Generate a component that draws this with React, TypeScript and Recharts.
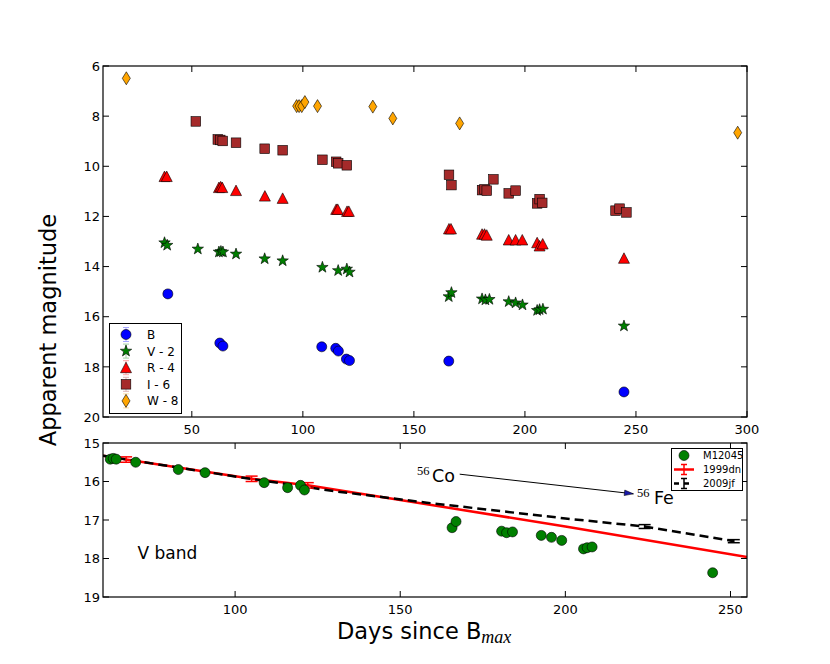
import React from 'react'
import {
  ComposedChart,
  Scatter,
  Line,
  XAxis,
  YAxis,
  ErrorBar,
  ReferenceLine,
  ReferenceDot,
} from 'recharts'

const FONT = '"DejaVu Sans", sans-serif'
const SERIF = '"Liberation Serif", "DejaVu Serif", serif'

// ---- top panel: days since B max vs. magnitude (bands shifted by offsets) ----
const B_DAYS = [39.2, 62.6, 64.0, 108.5, 114.8, 116.0, 119.6, 121.0, 165.7, 244.6]
const B_MAG = [15.09, 17.05, 17.17, 17.2, 17.26, 17.37, 17.69, 17.75, 17.77, 19.0]

const V_DAYS = [37.7, 38.9, 52.7, 62.2, 63.1, 64.0, 69.9, 82.8, 90.9, 108.8, 115.9, 119.8, 121.0,
  165.7, 166.9, 180.7, 182.2, 184.0, 192.7, 195.8, 198.9, 205.5, 206.6, 208.1, 244.6]
const V2_MAG = [13.05, 13.15, 13.3, 13.42, 13.4, 13.42, 13.5, 13.69, 13.77, 14.03, 14.16, 14.1, 14.22,
  15.2, 15.04, 15.29, 15.33, 15.31, 15.4, 15.45, 15.53, 15.75, 15.72, 15.7, 16.37]

const R_DAYS = [37.7, 38.7, 62.2, 63.0, 63.7, 69.9, 82.9, 90.9, 115.0, 115.7, 119.9, 120.7,
  165.8, 166.7, 180.7, 181.8, 182.8, 192.7, 195.8, 198.8, 205.5, 206.6, 208.0, 244.6]
const R4_MAG = [10.41, 10.41, 10.85, 10.82, 10.85, 10.97, 11.19, 11.28, 11.72, 11.72, 11.8, 11.8,
  12.5, 12.5, 12.71, 12.71, 12.75, 12.94, 12.94, 12.94, 13.05, 13.18, 13.1, 13.67]

const I_DAYS = [51.8, 61.7, 62.8, 63.9, 69.9, 82.8, 90.9, 108.8, 115.0, 115.9, 119.8, 165.8, 166.9,
  180.7, 181.8, 182.8, 185.8, 192.7, 195.8, 205.5, 206.6, 207.8, 240.8, 242.6, 245.7]
const I6_MAG = [8.21, 8.93, 8.95, 8.99, 9.06, 9.3, 9.36, 9.74, 9.82, 9.88, 9.96, 10.34, 10.75,
  10.95, 10.92, 10.97, 10.52, 11.08, 10.97, 11.48, 11.31, 11.46, 11.77, 11.69, 11.84]

const W_DAYS = [20.5, 97.2, 98.3, 99.5, 100.9, 106.6, 131.5, 140.5, 170.6, 295.8]
const W8_MAG = [6.49, 7.6, 7.6, 7.6, 7.44, 7.6, 7.62, 8.09, 8.29, 8.66]

const TOP_X_TICKS = [50, 100, 150, 200, 250, 300]
const TOP_Y_TICKS = [6, 8, 10, 12, 14, 16, 18, 20]

// ---- bottom panel: V band against the 1999dn and 2009jf templates ----
const DN_DAYS = [60, 67, 105, 122, 150, 200, 255]
const DN_MAG = [15.33, 15.43, 15.93, 16.1, 16.48, 17.17, 17.96]
const DN_ERR_DAYS = [67, 105, 122]
const DN_ERR_MAG = [15.43, 15.93, 16.1]
const DN_ERR = [0.07, 0.07, 0.07]

const JF_DAYS = [60, 100, 130, 158, 200, 224, 251]
const JF_MAG = [15.33, 15.87, 16.25, 16.55, 16.96, 17.17, 17.55]
const JF_ERR_DAYS = [224, 251]
const JF_ERR_MAG = [17.17, 17.55]
const JF_ERR = [0.05, 0.04]

const BOT_X_TICKS = [100, 150, 200, 250]
const BOT_Y_TICKS = [15, 16, 17, 18, 19]

const ARROW = [{ x: 168, y: 15.81 }, { x: 220.6, y: 16.32 }]

const pts = (xs: number[], ys: number[]) => xs.map((x, i) => ({ x, y: ys[i] }))

const bData = pts(B_DAYS, B_MAG)
const vData = pts(V_DAYS, V2_MAG)
const rData = pts(R_DAYS, R4_MAG)
const iData = pts(I_DAYS, I6_MAG)
const wData = pts(W_DAYS, W8_MAG)

// the bottom V band is the same photometry without the -2 shift
const mData = V_DAYS.map((x, i) => ({ x, y: V2_MAG[i] + 2 })).filter(p => p.x >= 60)
const dnData = pts(DN_DAYS, DN_MAG)
const jfData = pts(JF_DAYS, JF_MAG)
const dnErrData = DN_ERR_DAYS.map((x, i) => ({ x, y: DN_ERR_MAG[i], err: DN_ERR[i] }))
const jfErrData = JF_ERR_DAYS.map((x, i) => ({ x, y: JF_ERR_MAG[i], err: JF_ERR[i] }))

const COLORS = { B: '#0000ff', V: '#007f00', R: '#ff0000', I: '#a52a2a', W: '#ffa500' }

// plot boxes inside each chart's own svg
const TOP_BOX = { left: 103, right: 747, top: 66, bottom: 417 }
const BOT_BOX = { left: 103, right: 747, top: 23, bottom: 177 }
const BOT_OFFSET = 420

const edge = { stroke: '#000', strokeWidth: 0.6 }

const circle = (fill: string) => (p: any) => (
  <circle cx={p.cx} cy={p.cy} r={5} fill={fill} {...edge} />
)
const star = (fill: string) => (p: any) => {
  const v: string[] = []
  for (let k = 0; k < 10; k++) {
    const a = -Math.PI / 2 + (k * Math.PI) / 5
    const rr = k % 2 === 0 ? 6 : 2.4
    v.push(`${p.cx + rr * Math.cos(a)},${p.cy + rr * Math.sin(a)}`)
  }
  return <polygon points={v.join(' ')} fill={fill} {...edge} />
}
const triangle = (fill: string) => (p: any) => (
  <polygon
    points={`${p.cx},${p.cy - 5.5} ${p.cx - 5.5},${p.cy + 5} ${p.cx + 5.5},${p.cy + 5}`}
    fill={fill}
    {...edge}
  />
)
const square = (fill: string) => (p: any) => (
  <rect x={p.cx - 4.8} y={p.cy - 4.8} width={9.6} height={9.6} fill={fill} {...edge} />
)
const diamond = (fill: string) => (p: any) => (
  <polygon
    points={`${p.cx},${p.cy - 6.5} ${p.cx + 4},${p.cy} ${p.cx},${p.cy + 6.5} ${p.cx - 4},${p.cy}`}
    fill={fill}
    {...edge}
  />
)
const nothing = () => <g />

const arrowHead = (p: any) => (
  <polygon
    points={`${p.cx},${p.cy} ${p.cx - 9},${p.cy - 2.8} ${p.cx - 9},${p.cy + 2.8}`}
    fill="#1a1aa8"
    stroke="#000"
    strokeWidth={0.5}
    transform={`rotate(6.5 ${p.cx} ${p.cy})`}
  />
)

// matplotlib classic look: ticks point inwards on all four sides
const xTick = (box: typeof TOP_BOX) => (p: any) => (
  <g stroke="#000" strokeWidth={1}>
    <line x1={p.x} y1={box.bottom} x2={p.x} y2={box.bottom - 6} />
    <line x1={p.x} y1={box.top} x2={p.x} y2={box.top + 6} />
    <text
      x={p.x}
      y={box.bottom + 17}
      textAnchor="middle"
      stroke="none"
      fill="#000"
      fontSize={13}
      fontFamily={FONT}
    >
      {p.payload.value}
    </text>
  </g>
)
const yTick = (box: typeof TOP_BOX) => (p: any) => (
  <g stroke="#000" strokeWidth={1}>
    <line x1={box.left} y1={p.y} x2={box.left + 6} y2={p.y} />
    <line x1={box.right} y1={p.y} x2={box.right - 6} y2={p.y} />
    <text
      x={box.left - 3}
      y={p.y + 4.7}
      textAnchor="end"
      stroke="none"
      fill="#000"
      fontSize={13}
      fontFamily={FONT}
    >
      {p.payload.value}
    </text>
  </g>
)

const TOP_LEGEND = [
  { name: 'B', shape: circle(COLORS.B), color: COLORS.B },
  { name: 'V - 2', shape: star(COLORS.V), color: COLORS.V },
  { name: 'R - 4', shape: triangle(COLORS.R), color: COLORS.R },
  { name: 'I - 6', shape: square(COLORS.I), color: COLORS.I },
  { name: 'W - 8', shape: diamond(COLORS.W), color: COLORS.W },
]

const ErrGlyph = ({ x, y, h, color, op = 1, w = 1 }: any) => (
  <g stroke={color} strokeWidth={w} opacity={op}>
    <line x1={x} y1={y - h} x2={x} y2={y + h} />
    <line x1={x - 3} y1={y - h} x2={x + 3} y2={y - h} />
    <line x1={x - 3} y1={y + h} x2={x + 3} y2={y + h} />
  </g>
)

export default function App() {
  return (
    <div style={{ position: 'absolute', left: 0, top: 0, width: 830, height: 664, background: '#fff' }}>
      <div style={{ position: 'absolute', left: 0, top: 0 }}>
        <ComposedChart width={830} height={440} margin={{ top: 66, right: 83, bottom: 0, left: 0 }}>
          <XAxis
            type="number"
            dataKey="x"
            domain={[10, 300]}
            ticks={TOP_X_TICKS}
            allowDataOverflow
            interval={0}
            height={23}
            axisLine={false}
            tickLine={false}
            tick={xTick(TOP_BOX)}
          />
          <YAxis
            type="number"
            dataKey="y"
            domain={[6, 20]}
            reversed
            ticks={TOP_Y_TICKS}
            allowDataOverflow
            interval={0}
            width={103}
            axisLine={false}
            tickLine={false}
            tick={yTick(TOP_BOX)}
          />
          <Scatter name="B" data={bData} shape={circle(COLORS.B)} isAnimationActive={false} />
          <Scatter name="V - 2" data={vData} shape={star(COLORS.V)} isAnimationActive={false} />
          <Scatter name="R - 4" data={rData} shape={triangle(COLORS.R)} isAnimationActive={false} />
          <Scatter name="I - 6" data={iData} shape={square(COLORS.I)} isAnimationActive={false} />
          <Scatter name="W - 8" data={wData} shape={diamond(COLORS.W)} isAnimationActive={false} />
        </ComposedChart>
      </div>

      <div style={{ position: 'absolute', left: 0, top: BOT_OFFSET }}>
        <ComposedChart width={830} height={244} margin={{ top: 23, right: 83, bottom: 0, left: 0 }}>
          <XAxis
            type="number"
            dataKey="x"
            domain={[60, 255]}
            ticks={BOT_X_TICKS}
            allowDataOverflow
            interval={0}
            height={67}
            axisLine={false}
            tickLine={false}
            tick={xTick(BOT_BOX)}
          />
          <YAxis
            type="number"
            dataKey="y"
            domain={[15, 19]}
            reversed
            ticks={BOT_Y_TICKS}
            allowDataOverflow
            interval={0}
            width={103}
            axisLine={false}
            tickLine={false}
            tick={yTick(BOT_BOX)}
          />
          <Scatter name="M12045" data={mData} shape={circle('#008000')} isAnimationActive={false} />
          <Line
            name="1999dn"
            data={dnData}
            dataKey="y"
            type="linear"
            stroke="#ff0000"
            strokeWidth={2.5}
            dot={false}
            activeDot={false}
            isAnimationActive={false}
          />
          <Line
            name="2009jf"
            data={jfData}
            dataKey="y"
            type="linear"
            stroke="#000"
            strokeWidth={2.5}
            strokeDasharray="9 5"
            dot={false}
            activeDot={false}
            isAnimationActive={false}
          />
          <Scatter data={dnErrData} shape={nothing} isAnimationActive={false}>
            <ErrorBar dataKey="err" direction="y" width={6} stroke="#ff0000" strokeWidth={1.5} />
          </Scatter>
          <Scatter data={jfErrData} shape={nothing} isAnimationActive={false}>
            <ErrorBar dataKey="err" direction="y" width={6} stroke="#000" strokeWidth={1.5} />
          </Scatter>
          <ReferenceLine segment={ARROW} stroke="#000" strokeWidth={1} ifOverflow="visible" />
          <ReferenceDot x={ARROW[1].x} y={ARROW[1].y} shape={arrowHead} ifOverflow="visible" />
        </ComposedChart>
      </div>

      <svg
        width={830}
        height={664}
        style={{ position: 'absolute', left: 0, top: 0, pointerEvents: 'none' }}
        fontFamily={FONT}
      >
        {/* axes frames */}
        <rect
          x={TOP_BOX.left}
          y={TOP_BOX.top}
          width={TOP_BOX.right - TOP_BOX.left}
          height={TOP_BOX.bottom - TOP_BOX.top}
          fill="none"
          stroke="#000"
          strokeWidth={1.2}
        />
        <rect
          x={BOT_BOX.left}
          y={BOT_BOX.top + BOT_OFFSET}
          width={BOT_BOX.right - BOT_BOX.left}
          height={BOT_BOX.bottom - BOT_BOX.top}
          fill="none"
          stroke="#000"
          strokeWidth={1.2}
        />

        <text x={56} y={330} fontSize={22.5} textAnchor="middle" transform="rotate(-90 56 330)">
          Apparent magnitude
        </text>
        <text x={337} y={639} fontSize={22.5}>
          Days since B
          <tspan fontFamily={SERIF} fontStyle="italic" fontSize={18} dy={4}>max</tspan>
        </text>
        <text x={137.5} y={559} fontSize={17}>V band</text>
        <text x={417} y={475} fontSize={12.5} fontFamily={SERIF}>56</text>
        <text x={432} y={482} fontSize={17.5}>Co</text>
        <text x={637} y={497} fontSize={12.5} fontFamily={SERIF}>56</text>
        <text x={654} y={504} fontSize={17.5}>Fe</text>

        {/* top legend */}
        <rect x={109.5} y={323.5} width={72} height={90} fill="#fff" stroke="#000" strokeWidth={1} />
        {TOP_LEGEND.map((it, i) => {
          const cy = 334.5 + i * 16.6
          return (
            <g key={it.name}>
              <ErrGlyph x={126} y={cy} h={7} color={it.color} op={0.35} />
              {it.shape({ cx: 126, cy })}
              <text x={147} y={cy + 4.5} fontSize={12}>{it.name}</text>
            </g>
          )
        })}

        {/* bottom legend */}
        <rect x={671.5} y={448.5} width={71} height={42} fill="#fff" stroke="#000" strokeWidth={1} />
        {circle('#008000')({ cx: 684, cy: 455.5 })}
        <text x={703} y={459} fontSize={10}>M12045</text>
        <line x1={674} y1={469.5} x2={694} y2={469.5} stroke="#ff0000" strokeWidth={2.5} />
        <ErrGlyph x={684} y={469.5} h={5} color="#ff0000" w={1.5} />
        <text x={703} y={473} fontSize={10}>1999dn</text>
        <line x1={674} y1={483.5} x2={694} y2={483.5} stroke="#000" strokeWidth={2.5} strokeDasharray="5 5" />
        <ErrGlyph x={684} y={483.5} h={5} color="#000" w={1.5} />
        <text x={703} y={487} fontSize={10}>2009jf</text>
      </svg>
    </div>
  )
}
